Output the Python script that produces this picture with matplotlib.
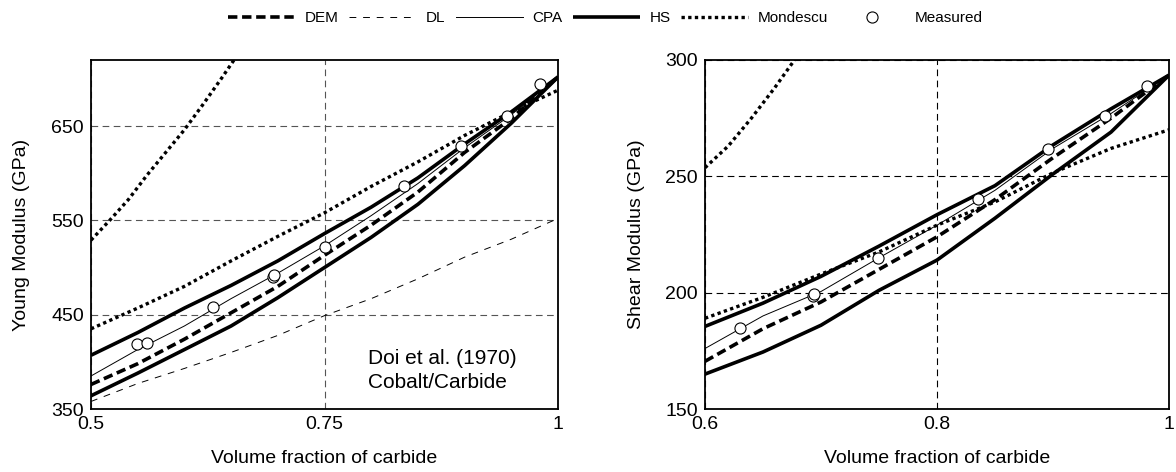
import matplotlib
matplotlib.use("Agg")
import matplotlib.pyplot as plt
from matplotlib.lines import Line2D

plt.rcParams['font.family'] = ['Liberation Sans', 'DejaVu Sans']

# ---------------- Left panel: Young modulus ----------------
x_left = [0.5, 0.55, 0.6, 0.65, 0.7, 0.75, 0.8, 0.85, 0.9, 0.95, 1.0]
young_hs_upper = [407, 431, 457, 481, 507, 536, 564, 595, 631, 665, 702]
young_cpa = [385, 413, 438, 467, 494, 523, 555, 589, 627, 662, 702]
young_dem = [376, 398, 424, 452, 480, 513, 545, 580, 622, 658, 702]
young_hs_lower = [364, 388, 413, 438, 468, 500, 532, 567, 608, 653, 702]
young_dl = [358, 377, 393, 410, 428, 449, 467, 488, 511, 530, 552]
young_mond_lower = [435, 457, 480, 507, 533, 558, 586, 612, 640, 665, 688]

x_mond_upper_left = [0.5, 0.52, 0.54, 0.56, 0.58, 0.6, 0.62, 0.64, 0.66]
young_mond_upper = [529, 550, 572, 598, 622, 646, 673, 701, 730]

young_meas_x = [0.549, 0.56, 0.631, 0.695, 0.696, 0.75, 0.835, 0.896, 0.945, 0.981]
young_meas_y = [418.6, 420, 458.5, 490, 492, 522, 586, 629, 661, 695]

# ---------------- Right panel: Shear modulus ----------------
x_right = [0.6, 0.65, 0.7, 0.75, 0.8, 0.85, 0.9, 0.95, 1.0]
shear_hs_upper = [185.5, 195.5, 207, 220, 233.5, 246, 263.5, 279, 293.5]
shear_cpa = [176, 190, 200.5, 215, 229, 244, 262, 277, 293.5]
shear_dem = [170.5, 184.5, 196, 210, 224, 240, 258, 275, 293.5]
shear_hs_lower = [165, 174.5, 186, 201, 214, 232, 251, 269, 293.5]
shear_mond_lower = [189, 198, 208, 217.5, 229, 239, 251.5, 262, 270]

x_mond_upper_right = [0.6, 0.62, 0.64, 0.66, 0.68]
shear_mond_upper = [253.7, 263, 275, 288, 302]

shear_meas_x = [0.630, 0.693, 0.694, 0.749, 0.835, 0.896, 0.945, 0.981]
shear_meas_y = [185, 198.5, 199.5, 214.8, 240.1, 261.6, 275.9, 288.8]

# tick labels
left_xticks = [0.5, 0.75, 1.0]
left_xticklabels = ["0.5", "0.75", "1"]
left_yticks = [350, 450, 550, 650]
right_xticks = [0.6, 0.8, 1.0]
right_xticklabels = ["0.6", "0.8", "1"]
right_yticks = [150, 200, 250, 300]

legend_labels = ["DEM", "DL", "CPA", "HS", "Mondescu", "Measured"]

# ---------------- styles ----------------
FS = 14
sty_hs = dict(color='black', lw=2.6, solid_capstyle='butt')
sty_cpa = dict(color='black', lw=0.7)
sty_dem = dict(color='black', lw=2.6, dashes=(2.6, 1.3), dash_capstyle='butt')
sty_dl = dict(color='black', lw=0.7, dashes=(7, 7))
sty_mond = dict(color='black', lw=2.4, dashes=(1, 1.0), dash_capstyle='butt')
sty_meas = dict(ls='none', marker='o', ms=8, mfc='white', mec='black', mew=0.8)

fig = plt.figure(figsize=(11.76, 4.72), dpi=100)
axL = fig.add_axes([91/1176, 63/472, 467/1176, 349/472])
axR = fig.add_axes([705/1176, 63/472, 464/1176, 349/472])

def style_axis(ax, gridcolor):
    ax.grid(True, color=gridcolor, ls=(0, (6, 4)), lw=0.8)
    ax.set_axisbelow(True)
    for s in ax.spines.values():
        s.set_linewidth(1.3)
    ax.tick_params(length=0, labelsize=FS, pad=5)

# Left
axL.plot(x_left, young_dl, **sty_dl)
axL.plot(x_left, young_hs_lower, **sty_hs)
axL.plot(x_left, young_dem, **sty_dem)
axL.plot(x_left, young_cpa, **sty_cpa)
axL.plot(x_left, young_hs_upper, **sty_hs)
axL.plot(x_left, young_mond_lower, **sty_mond)
axL.plot(x_mond_upper_left, young_mond_upper, **sty_mond)
axL.plot(young_meas_x, young_meas_y, **sty_meas)
axL.set_xlim(0.5, 1.0)
axL.set_ylim(350, 720)
axL.set_xticks(left_xticks)
axL.set_xticklabels(left_xticklabels)
axL.set_yticks(left_yticks)
style_axis(axL, '#555555')
axL.set_xlabel("Volume fraction of carbide", fontsize=FS, labelpad=12)
axL.set_ylabel("Young Modulus (GPa)", fontsize=FS, labelpad=15)
axL.text(0.797, 398, "Doi et al. (1970)", fontsize=15, ha='left', va='baseline')
axL.text(0.797, 372, "Cobalt/Carbide", fontsize=15, ha='left', va='baseline')

# Right
axR.plot(x_right, shear_hs_lower, **sty_hs)
axR.plot(x_right, shear_dem, **sty_dem)
axR.plot(x_right, shear_cpa, **sty_cpa)
axR.plot(x_right, shear_hs_upper, **sty_hs)
axR.plot(x_right, shear_mond_lower, **sty_mond)
axR.plot(x_mond_upper_right, shear_mond_upper, **sty_mond)
axR.plot(shear_meas_x, shear_meas_y, **sty_meas)
axR.set_xlim(0.6, 1.0)
axR.set_ylim(150, 300)
axR.set_xticks(right_xticks)
axR.set_xticklabels(right_xticklabels)
axR.set_yticks(right_yticks)
style_axis(axR, 'black')
axR.set_xlabel("Volume fraction of carbide", fontsize=FS, labelpad=12)
axR.set_ylabel("Shear Modulus (GPa)", fontsize=FS, labelpad=15)

# Legend
handles = [
    Line2D([], [], **sty_dem),
    Line2D([], [], **sty_dl),
    Line2D([], [], **sty_cpa),
    Line2D([], [], **sty_hs),
    Line2D([], [], **sty_mond),
    Line2D([], [], **sty_meas),
]
fig.legend(handles, legend_labels, loc='upper center', bbox_to_anchor=(0.515, 1.005),
           ncol=6, frameon=False, fontsize=11, handlelength=4.4,
           columnspacing=0.7, handletextpad=0.6)

fig.savefig("out.png", dpi=100)
